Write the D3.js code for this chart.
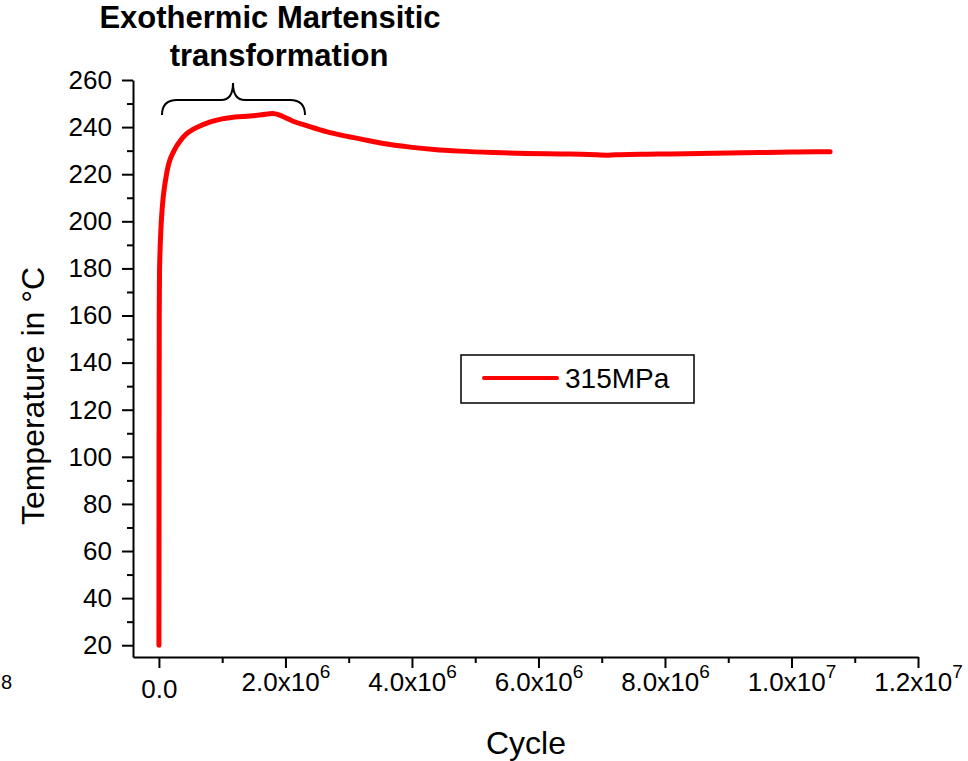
<!DOCTYPE html>
<html>
<head>
<meta charset="utf-8">
<script src="https://cdn.jsdelivr.net/npm/d3@7"></script>
<style>
  body { margin: 0; background: #fff; }
  svg { display: block; font-family: Arial, "Liberation Sans", sans-serif; }
</style>
</head>
<body>
<script>
// Temperature vs cycle, 315MPa
const cycles = [0, 2000, 5000, 9000, 16000, 30000, 45000, 63000, 90000, 120000, 142000, 180000,
  230000, 280000, 332000, 430000, 538000, 650000, 760000, 854000, 1000000, 1200000, 1440000,
  1620000, 1800000, 1900000, 2000000, 2120000, 2350000, 2660000, 2900000, 3180000, 3550000,
  3970000, 4350000, 4760000, 5300000, 5800000, 6340000, 6800000, 7100000, 7290000, 7700000,
  8100000, 8550000, 9000000, 9500000, 10000000, 10400000, 10610000];
const temps = [20, 100, 160, 178, 186, 196, 203, 209, 215, 220, 223, 226.5,
  229.5, 232, 234, 237, 239, 240.5, 241.7, 242.5, 243.5, 244.3, 244.7,
  245.2, 245.8, 245.2, 244, 242.5, 240.5, 238, 236.5, 235, 233,
  231.5, 230.5, 229.8, 229.2, 228.8, 228.6, 228.4, 228.1, 228.3, 228.5,
  228.6, 228.8, 229, 229.2, 229.4, 229.5, 229.5];

const xTicks = [0, 2e6, 4e6, 6e6, 8e6, 1e7, 1.2e7];
const xTickLabels = [["0.0", ""], ["2.0x10", "6"], ["4.0x10", "6"], ["6.0x10", "6"],
  ["8.0x10", "6"], ["1.0x10", "7"], ["1.2x10", "7"]];
const xMinor = [1e6, 3e6, 5e6, 7e6, 9e6, 1.1e7];
const yTicks = [20, 40, 60, 80, 100, 120, 140, 160, 180, 200, 220, 240, 260];
const yMinor = [30, 50, 70, 90, 110, 130, 150, 170, 190, 210, 230, 250];
const seriesName = "315MPa";

const W = 968, H = 761;
const pd = { left: 133, right: 918, top: 80, bottom: 657 };

const svg = d3.select("body").append("svg").attr("width", W).attr("height", H);

const x = d3.scaleLinear().domain([-4.1e5, 1.2e7]).range([pd.left, pd.right]);
const y = d3.scaleLinear().domain([15, 260]).range([pd.bottom, pd.top]);

/*---- axes ----*/
const gx = svg.append("g")
  .attr("transform", "translate(0," + pd.bottom + ")")
  .call(d3.axisBottom(x).tickValues(xTicks).tickSize(11).tickPadding(12).tickSizeOuter(0)
    .tickFormat((d, i) => xTickLabels[i][0]));
svg.append("g")
  .attr("transform", "translate(0," + pd.bottom + ")")
  .call(d3.axisBottom(x).tickValues(xMinor).tickSize(6).tickSizeOuter(0).tickFormat(""))
  .select(".domain").remove();

const gy = svg.append("g")
  .attr("transform", "translate(" + pd.left + ",0)")
  .call(d3.axisLeft(y).tickValues(yTicks).tickSize(11).tickPadding(10).tickSizeOuter(0));
svg.append("g")
  .attr("transform", "translate(" + pd.left + ",0)")
  .call(d3.axisLeft(y).tickValues(yMinor).tickSize(6).tickSizeOuter(0).tickFormat(""))
  .select(".domain").remove();

svg.selectAll(".domain").attr("stroke", "#000").attr("stroke-width", 2);
svg.selectAll(".tick line").attr("stroke", "#000").attr("stroke-width", 2);
svg.selectAll(".tick text").attr("fill", "#000").attr("font-size", 26)
  .attr("font-family", "Arial, 'Liberation Sans', sans-serif");

// superscript exponents on x labels
gx.selectAll(".tick text").each(function(d, i) {
  const t = d3.select(this);
  const lab = xTickLabels[i];
  if (!lab[1]) return;
  t.text(null).attr("y", 16);
  t.append("tspan").text(lab[0]);
  t.append("tspan").text(lab[1]).attr("font-size", 19).attr("dy", -13);
});

/*---- curve ----*/
const pts = cycles.map((c, i) => [c, temps[i]]);
svg.append("path")
  .datum(pts)
  .attr("fill", "none")
  .attr("stroke", "#ff0000")
  .attr("stroke-width", 5)
  .attr("stroke-linecap", "round")
  .attr("stroke-linejoin", "round")
  .attr("d", d3.line().x(d => x(d[0])).y(d => y(d[1])).curve(d3.curveMonotoneX));

/*---- axis titles ----*/
svg.append("text")
  .attr("transform", "translate(44,396) rotate(-90)")
  .attr("text-anchor", "middle").attr("font-size", 32)
  .text("Temperature in °C");
svg.append("text")
  .attr("x", 526).attr("y", 754)
  .attr("text-anchor", "middle").attr("font-size", 32)
  .text("Cycle");
// stray exponent at the left edge
svg.append("text").attr("x", 1).attr("y", 689).attr("font-size", 20).text("8");

/*---- annotation ----*/
svg.append("text").attr("x", 270).attr("y", 28)
  .attr("text-anchor", "middle").attr("font-size", 31).attr("font-weight", "bold")
  .text("Exothermic Martensitic");
svg.append("text").attr("x", 279).attr("y", 66)
  .attr("text-anchor", "middle").attr("font-size", 31).attr("font-weight", "bold")
  .text("transformation");

const bx0 = 162, bx1 = 305, bmid = 233, by0 = 115, by1 = 100, btip = 83;
svg.append("path")
  .attr("fill", "none").attr("stroke", "#000").attr("stroke-width", 2)
  .attr("d",
    `M${bx0},${by0} Q${bx0},${by1} ${bx0 + 15},${by1} L${bmid - 12},${by1}` +
    ` Q${bmid},${by1} ${bmid},${btip} Q${bmid},${by1} ${bmid + 12},${by1}` +
    ` L${bx1 - 15},${by1} Q${bx1},${by1} ${bx1},${by0}`);

/*---- legend ----*/
const lg = svg.append("g");
lg.append("rect").attr("x", 461).attr("y", 355).attr("width", 233).attr("height", 48)
  .attr("fill", "#fff").attr("stroke", "#000").attr("stroke-width", 1.5);
lg.append("line").attr("x1", 484).attr("x2", 557).attr("y1", 378).attr("y2", 378)
  .attr("stroke", "#ff0000").attr("stroke-width", 4).attr("stroke-linecap", "round");
lg.append("text").attr("x", 565).attr("y", 388).attr("font-size", 28).text(seriesName);
</script>
</body>
</html>
